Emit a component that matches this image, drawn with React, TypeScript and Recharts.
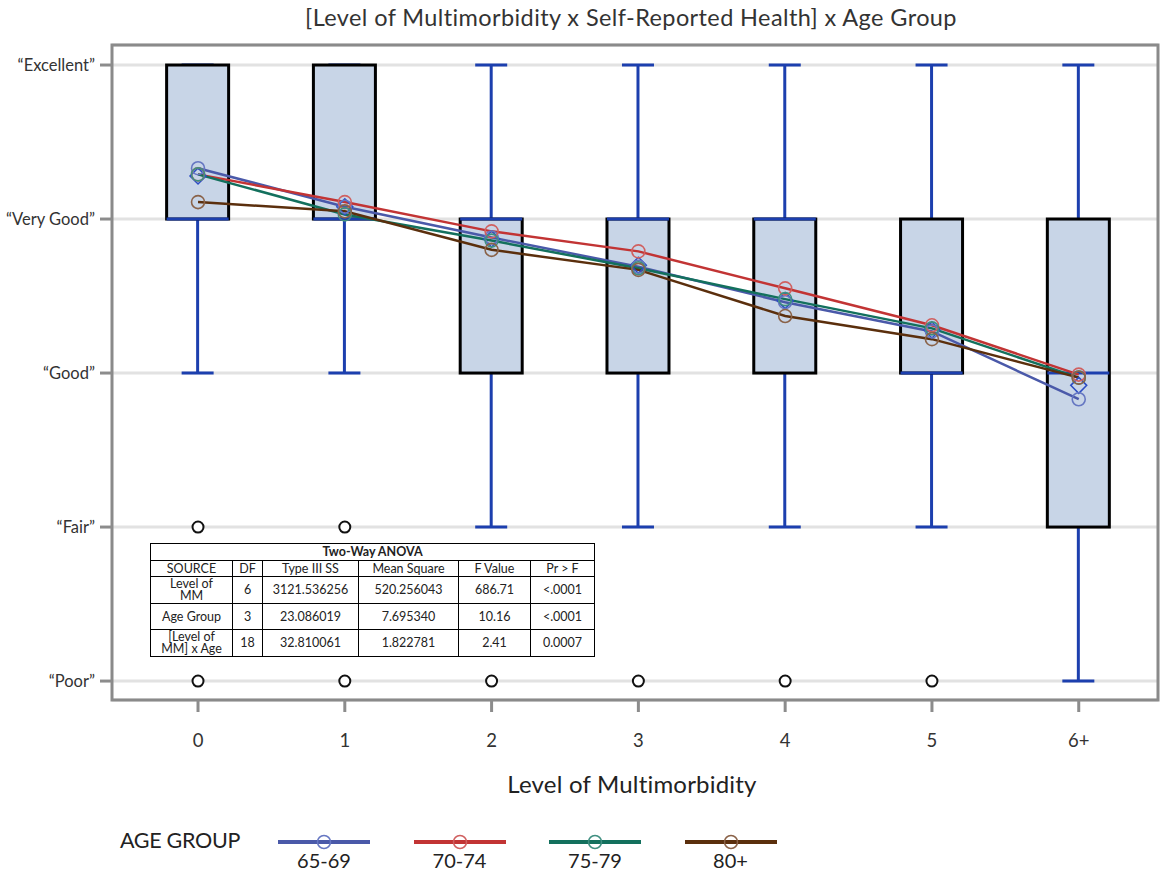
import React from 'react';
import {
  ComposedChart, Bar, Line, Scatter, XAxis, YAxis, CartesianGrid, ReferenceArea,
} from 'recharts';

// ---- Data ----
const categories = ['0', '1', '2', '3', '4', '5', '6+'];
const yTickLabels = ['\u201CPoor\u201D', '\u201CFair\u201D', '\u201CGood\u201D', '\u201CVery Good\u201D', '\u201CExcellent\u201D'];
const yTickValues = [1, 2, 3, 4, 5];

const whiskerLow = [3, 3, 2, 2, 2, 2, 1];
const q1 = [4, 4, 3, 3, 3, 3, 2];
const median = [4, 4, 4, 4, 4, 3, 3];
const q3 = [5, 5, 4, 4, 4, 4, 4];
const whiskerHigh = [5, 5, 5, 5, 5, 5, 5];

const outlierX = [0, 0, 1, 1, 2, 3, 4, 5];
const outlierY = [2, 1, 2, 1, 1, 1, 1, 1];

const overallMean = [4.28, 4.08, 3.87, 3.70, 3.47, 3.28, 2.92];
const mean6569 = [4.33, 4.08, 3.88, 3.69, 3.46, 3.27, 2.83];
const mean7074 = [4.29, 4.11, 3.92, 3.79, 3.55, 3.31, 2.99];
const mean7579 = [4.29, 4.03, 3.86, 3.68, 3.48, 3.29, 2.97];
const mean80 = [4.11, 4.05, 3.80, 3.67, 3.37, 3.22, 2.97];

const ageGroups = ['65-69', '70-74', '75-79', '80+'];
const ageLineColors = ['#4a59a9', '#c23434', '#13705d', '#5b2f0d'];
const ageDotColors = ['#6677c2', '#d06060', '#3f8f80', '#8a6248'];

const anovaHeader = ['SOURCE', 'DF', 'Type III SS', 'Mean Square', 'F Value', 'Pr > F'];
const anovaRows = [
  ['Level of\nMM', '6', '3121.536256', '520.256043', '686.71', '<.0001'],
  ['Age Group', '3', '23.086019', '7.695340', '10.16', '<.0001'],
  ['[Level of\nMM] x Age', '18', '32.810061', '1.822781', '2.41', '0.0007'],
];

// ---- Tables built from arrays ----
const data = categories.map((c, i) => ({
  x: i,
  cat: c,
  lo: whiskerLow[i],
  q1: q1[i],
  med: median[i],
  q3: q3[i],
  hi: whiskerHigh[i],
  range: [whiskerLow[i], whiskerHigh[i]],
  m: overallMean[i],
  a0: mean6569[i],
  a1: mean7074[i],
  a2: mean7579[i],
  a3: mean80[i],
}));
const outliers = outlierX.map((x, i) => ({ x, y: outlierY[i] }));

const FONT = 'Lato, "Open Sans", sans-serif';
const BOX_BLUE = '#1c3fae';
const X_DOMAIN: [number, number] = [-0.586, 6.54];
const Y_DOMAIN: [number, number] = [0.877, 5.13];

const BoxShape = (props: any) => {
  const { x, y, width, height, payload } = props;
  if (payload == null || height == null) return null;
  const { lo, hi } = payload;
  const py = (v: number) => y + (height * (hi - v)) / (hi - lo);
  const cx = x + width / 2;
  const cap = 16;
  return (
    <g>
      {payload.q1 > lo && (
        <line x1={cx} x2={cx} y1={py(lo)} y2={py(payload.q1)} stroke={BOX_BLUE} strokeWidth={3} />
      )}
      {hi > payload.q3 && (
        <line x1={cx} x2={cx} y1={py(hi)} y2={py(payload.q3)} stroke={BOX_BLUE} strokeWidth={3} />
      )}
      <line x1={cx - cap} x2={cx + cap} y1={py(lo)} y2={py(lo)} stroke={BOX_BLUE} strokeWidth={3} />
      <line x1={cx - cap} x2={cx + cap} y1={py(hi)} y2={py(hi)} stroke={BOX_BLUE} strokeWidth={3} />
      <rect
        x={x}
        y={py(payload.q3)}
        width={width}
        height={py(payload.q1) - py(payload.q3)}
        fill="#c8d5e7"
        stroke="#000"
        strokeWidth={3}
      />
      <line x1={x} x2={x + width} y1={py(payload.med)} y2={py(payload.med)} stroke={BOX_BLUE} strokeWidth={3} />
    </g>
  );
};

const makeDot = (color: string) => (p: any) => {
  const { cx, cy, index } = p;
  if (cx == null || cy == null) return <g key={index} />;
  return <circle key={index} cx={cx} cy={cy} r={6.5} fill="none" stroke={color} strokeWidth={1.6} />;
};

const Diamond = (p: any) => {
  const { cx, cy } = p;
  const s = 8;
  return (
    <polygon
      points={`${cx},${cy - s} ${cx + s},${cy} ${cx},${cy + s} ${cx - s},${cy}`}
      fill="none"
      stroke="#2b4cc4"
      strokeWidth={1.5}
    />
  );
};

const OutlierDot = (p: any) => {
  const { cx, cy } = p;
  return <circle cx={cx} cy={cy} r={5.5} fill="#fff" stroke="#111" strokeWidth={2} />;
};

export default function App() {
  return (
    <div style={{ position: 'absolute', left: 0, top: 0, width: 1162, height: 878, background: '#fff', fontFamily: FONT }}>
      <div
        style={{
          position: 'absolute', left: 0, width: 1262, top: 3, textAlign: 'center',
          fontSize: 23.5, letterSpacing: 0.4, color: '#333', whiteSpace: 'nowrap',
        }}
      >
        [Level of Multimorbidity x Self-Reported Health] x Age Group
      </div>

      <ComposedChart
        width={1162}
        height={878}
        data={data}
        margin={{ top: 45, right: 4, left: 12, bottom: 118 }}
        style={{ position: 'absolute', left: 0, top: 0 }}
      >
        <CartesianGrid horizontal vertical={false} stroke="#e2e2e2" strokeWidth={3} />
        <XAxis
          dataKey="x"
          type="number"
          domain={X_DOMAIN}
          allowDataOverflow
          ticks={[0, 1, 2, 3, 4, 5, 6]}
          tickFormatter={(v: number) => categories[v]}
          height={60}
          tickSize={12}
          tickMargin={22}
          axisLine={false}
          tickLine={{ stroke: '#8c8c8c', strokeWidth: 3 }}
          tick={{ fontSize: 18.5, fill: '#333', fontFamily: FONT }}
          interval={0}
        />
        <YAxis
          type="number"
          domain={Y_DOMAIN}
          allowDataOverflow
          ticks={yTickValues}
          tickFormatter={(v: number) => yTickLabels[v - 1]}
          width={100}
          tickSize={12}
          tickMargin={5}
          axisLine={false}
          tickLine={{ stroke: '#8c8c8c', strokeWidth: 3 }}
          tick={{ fontSize: 16.5, fill: '#333', fontFamily: FONT }}
          interval={0}
        />
        <ReferenceArea
          x1={X_DOMAIN[0]}
          x2={X_DOMAIN[1]}
          y1={Y_DOMAIN[0]}
          y2={Y_DOMAIN[1]}
          fill="none"
          stroke="#8a8a8a"
          strokeWidth={3}
          ifOverflow="visible"
        />
        <Bar dataKey="range" barSize={62} shape={<BoxShape />} isAnimationActive={false} />
        <Scatter dataKey="m" shape={<Diamond />} isAnimationActive={false} />
        {ageGroups.map((g, i) => (
          <Line
            key={g}
            dataKey={`a${i}`}
            name={g}
            type="linear"
            stroke={ageLineColors[i]}
            strokeWidth={2.5}
            dot={makeDot(ageDotColors[i])}
            activeDot={false}
            isAnimationActive={false}
          />
        ))}
        <Scatter data={outliers} dataKey="y" shape={<OutlierDot />} isAnimationActive={false} />
      </ComposedChart>

      <div
        style={{
          position: 'absolute', left: 0, width: 1264, top: 769, textAlign: 'center',
          fontSize: 24, letterSpacing: 0.2, color: '#222',
        }}
      >
        Level of Multimorbidity
      </div>

      <table
        style={{
          position: 'absolute', left: 150, top: 543, width: 444, borderCollapse: 'collapse',
          fontSize: 12.5, color: '#222', background: '#fff', fontFamily: FONT, tableLayout: 'fixed',
        }}
      >
        <colgroup>
          <col style={{ width: 82 }} />
          <col style={{ width: 30 }} />
          <col style={{ width: 96 }} />
          <col style={{ width: 100 }} />
          <col style={{ width: 72 }} />
          <col style={{ width: 64 }} />
        </colgroup>
        <tbody>
          <tr style={{ height: 17 }}>
            <td colSpan={6} style={{ border: '1px solid #000', textAlign: 'center', fontWeight: 700, padding: 0, lineHeight: '14px' }}>
              Two-Way ANOVA
            </td>
          </tr>
          <tr style={{ height: 16 }}>
            {anovaHeader.map((h) => (
              <td key={h} style={{ border: '1px solid #000', textAlign: 'center', padding: 0, lineHeight: '14px' }}>{h}</td>
            ))}
          </tr>
          {anovaRows.map((r, ri) => (
            <tr key={ri} style={{ height: ri === 1 ? 26 : 27 }}>
              {r.map((c, ci) => (
                <td
                  key={ci}
                  style={{
                    border: '1px solid #000', textAlign: 'center', padding: '0 2px',
                    lineHeight: '12px', whiteSpace: 'pre-line',
                  }}
                >
                  {c}
                </td>
              ))}
            </tr>
          ))}
        </tbody>
      </table>

      <div style={{ position: 'absolute', left: 120, top: 827, fontSize: 21.5, color: '#222', letterSpacing: -0.3 }}>
        AGE GROUP
      </div>
      {ageGroups.map((g, i) => {
        const left = 278 + i * 135.5;
        return (
          <div key={g} style={{ position: 'absolute', left, top: 832, width: 92, height: 44 }}>
            <svg width={92} height={20} style={{ position: 'absolute', left: 0, top: 0 }}>
              <line x1={0} x2={92} y1={10} y2={10} stroke={ageLineColors[i]} strokeWidth={4} />
              <circle cx={46} cy={10} r={6.5} fill="none" stroke={ageDotColors[i]} strokeWidth={1.5} />
            </svg>
            <div style={{ position: 'absolute', left: 0, width: 92, top: 16, textAlign: 'center', fontSize: 20, color: '#222' }}>
              {g}
            </div>
          </div>
        );
      })}
    </div>
  );
}
